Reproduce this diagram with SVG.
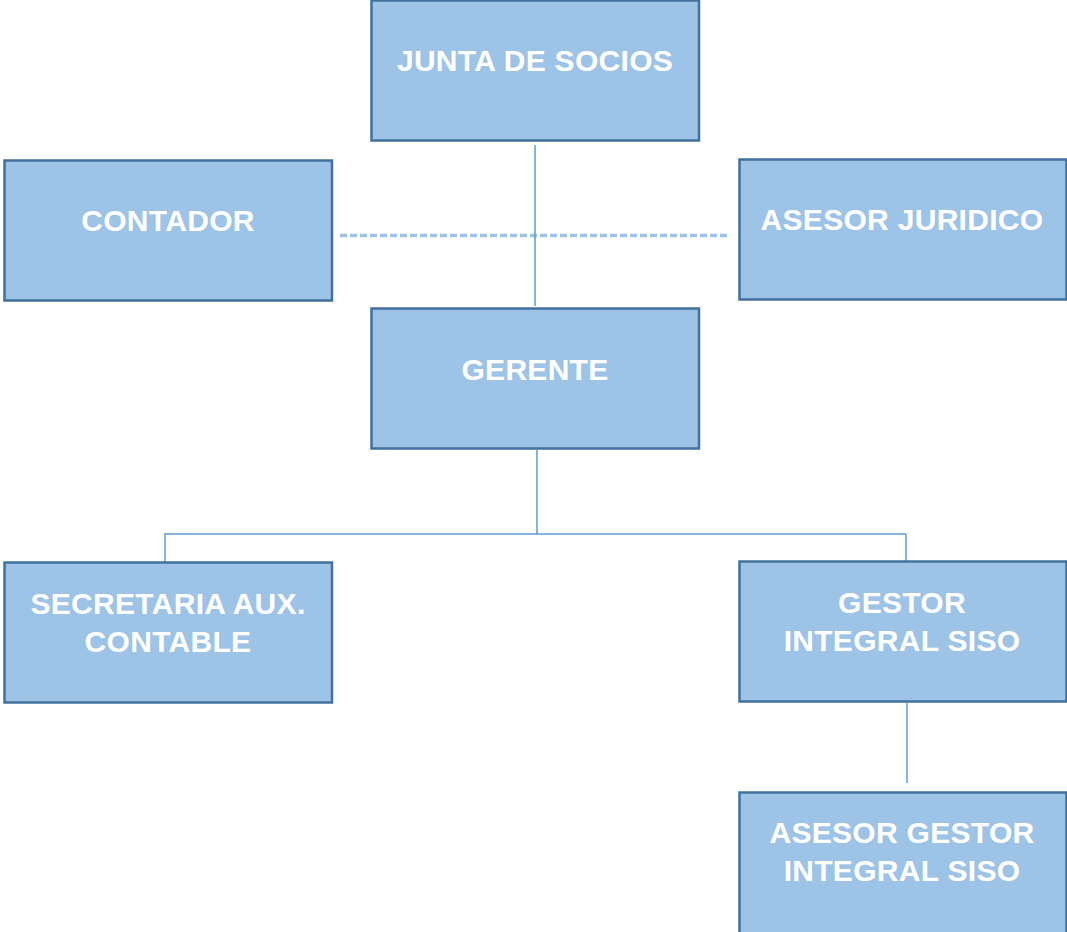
<svg xmlns="http://www.w3.org/2000/svg" width="1067" height="932" viewBox="0 0 1067 932">
<style>
.box{fill:#9dc3e6;stroke:#41719c;stroke-width:2.5}
.t{font-family:"Liberation Sans",Arial,sans-serif;font-weight:bold;font-size:30px;letter-spacing:0.3px;fill:#ffffff;text-anchor:middle}
.c{fill:none;stroke:#5b9bd5;stroke-width:1.5}
.d{fill:none;stroke:#9dc3e6;stroke-width:3.5;stroke-dasharray:7 3}
</style>
<rect width="1067" height="932" fill="#ffffff"/>
<g id="connectors">
<line class="d" x1="340" y1="235.5" x2="728" y2="235.5"/>
<line class="c" x1="535" y1="145" x2="535" y2="306"/>
<line class="c" x1="537" y1="450" x2="537" y2="534"/>
<line class="c" x1="165" y1="534" x2="906" y2="534"/>
<line class="c" x1="165" y1="533" x2="165" y2="562"/>
<line class="c" x1="906" y1="534" x2="906" y2="565"/>
<line class="c" x1="907" y1="703" x2="907" y2="783"/>
</g>
<g id="junta">
<rect class="box" x="371.5" y="0.5" width="327.5" height="140"/>
<text class="t" x="535" y="71">JUNTA DE SOCIOS</text>
</g>
<g id="contador">
<rect class="box" x="4.5" y="160.5" width="327.5" height="140"/>
<text class="t" x="168" y="231">CONTADOR</text>
</g>
<g id="asesor-juridico">
<rect class="box" x="739.5" y="159.5" width="327" height="140"/>
<text class="t" x="902" y="230">ASESOR JURIDICO</text>
</g>
<g id="gerente">
<rect class="box" x="371.5" y="308.5" width="327.5" height="140"/>
<text class="t" x="535" y="380">GERENTE</text>
</g>
<g id="secretaria">
<rect class="box" x="4.5" y="562.5" width="327.5" height="140"/>
<text class="t" x="168" y="614">SECRETARIA AUX.</text>
<text class="t" x="168" y="652">CONTABLE</text>
</g>
<g id="gestor">
<rect class="box" x="739.5" y="561.5" width="327" height="140"/>
<text class="t" x="902" y="613">GESTOR</text>
<text class="t" x="902" y="651">INTEGRAL SISO</text>
</g>
<g id="asesor-gestor">
<rect class="box" x="739.5" y="792.5" width="327" height="160"/>
<text class="t" x="902" y="843">ASESOR GESTOR</text>
<text class="t" x="902" y="881">INTEGRAL SISO</text>
</g>
</svg>
